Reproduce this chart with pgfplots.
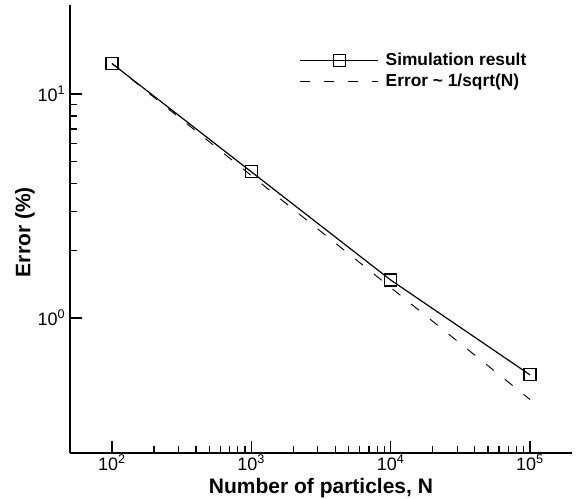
\documentclass[border=0pt]{standalone}
\usepackage{fontspec}
\setmainfont{Liberation Sans}
\usepackage{pgfplots}
\pgfplotsset{compat=1.18}
\begin{document}
\begin{tikzpicture}
  % page frame (578x499 px at 0.75pt/px)
  \useasboundingbox (-52.5pt,-34.5pt) rectangle (381pt,339.75pt);
  \begin{axis}[
      scale only axis,
      width=376.5pt,
      height=336pt,
      xmode=log,
      ymode=log,
      xmin=50, xmax=200000,
      ymin=0.25, ymax=25,
      axis lines=left,
      axis line style={-, line width=1.6pt},
      tick align=inside,
      major tick length=8.75pt,
      minor tick length=5.5pt,
      every tick/.style={black, line width=1pt},
      xtick={100,1000,10000,100000},
      xticklabels={10\textsuperscript{2},10\textsuperscript{3},10\textsuperscript{4},10\textsuperscript{5}},
      ytick={1,10},
      yticklabels={10\textsuperscript{0},10\textsuperscript{1}},
      tick label style={font=\fontsize{13.5}{15}\selectfont},
      xticklabel style={yshift=2.5pt},
      xlabel={\textbf{Number of particles, N}},
      ylabel={\textbf{Error (\%)}},
      label style={font=\fontsize{15.75}{18}\selectfont},
      xlabel style={at={(axis description cs:0.5,-0.079)}, anchor=center},
      ylabel style={at={(axis description cs:-0.09,0.493)}, anchor=center},
      legend style={
        draw=none, fill=none,
        at={(axis description cs:0.448,0.905)}, anchor=north west,
        font=\bfseries\fontsize{13}{15}\selectfont,
        row sep=1pt,
        nodes={inner xsep=5pt},
        cells={anchor=west},
      },
      legend image code/.code={
        \draw[mark repeat=2,mark phase=2,#1]
          plot coordinates {(0pt,0pt) (29.5pt,0pt) (59pt,0pt)};
      },
    ]
    % simulation result
    \addplot[black, line width=0.9pt, mark=square, mark size=4.5pt,
             mark options={solid, line width=0.9pt}]
      coordinates {
        (100,13.7)
        (1000,4.5)
        (10000,1.48)
        (100000,0.558)
      };
    \addlegendentry{Simulation result}
    % reference slope
    \addplot[black, line width=0.7pt, dash pattern=on 7.5pt off 10.5pt]
      coordinates {
        (100,13.7)
        (1000,4.33)
        (10000,1.37)
        (100000,0.433)
      };
    \addlegendentry{Error \textasciitilde{} 1/sqrt(N)}
  \end{axis}
\end{tikzpicture}
\end{document}
